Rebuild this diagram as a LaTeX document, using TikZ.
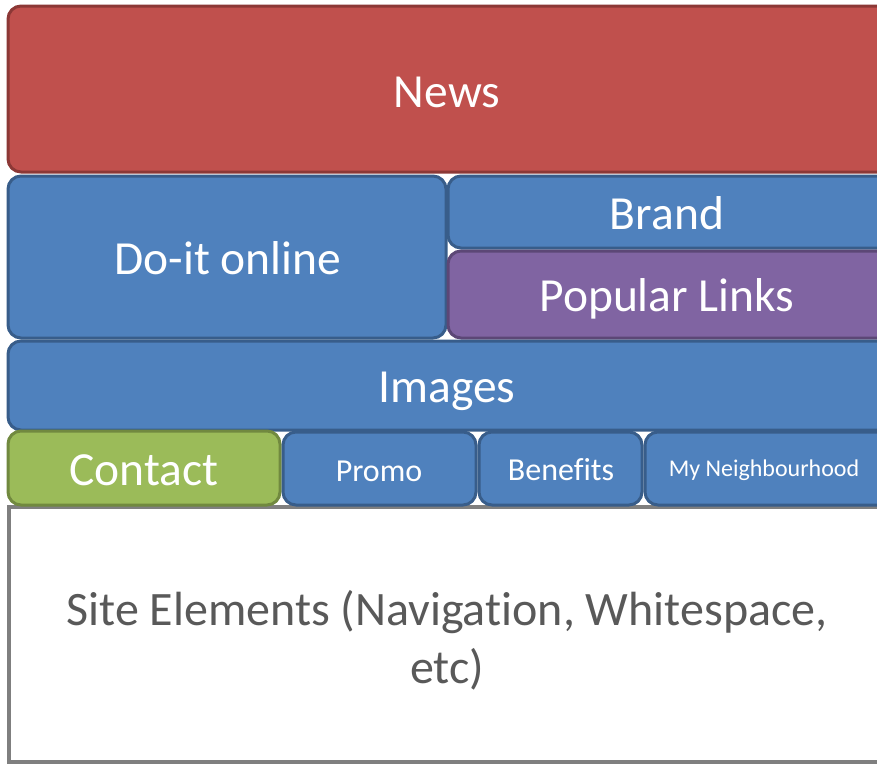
\documentclass[tikz,border=0pt]{standalone}
\usepackage{fontspec}
\setmainfont{Carlito}[Ligatures=NoCommon]
\definecolor{redfill}{HTML}{C0504D}
\definecolor{redline}{HTML}{8C3836}
\definecolor{bluefill}{HTML}{4F81BD}
\definecolor{blueline}{HTML}{385D8A}
\definecolor{greenfill}{HTML}{9BBB59}
\definecolor{greenline}{HTML}{71893F}
\definecolor{purplefill}{HTML}{8064A2}
\definecolor{purpleline}{HTML}{5C4776}
\definecolor{grayline}{HTML}{7F7F7F}
\definecolor{graytext}{HTML}{595959}
\tikzset{
  blk/.style={draw, line width=3pt, rounded corners=13pt, inner sep=0pt, rectangle},
  redblk/.style={blk, fill=redfill, draw=redline},
  blueblk/.style={blk, fill=bluefill, draw=blueline},
  greenblk/.style={blk, fill=greenfill, draw=greenline},
  purpleblk/.style={blk, fill=purplefill, draw=purpleline},
  big/.style={text=white, font=\fontsize{47.5}{56}\selectfont, inner sep=0pt},
  mid/.style={text=white, font=\fontsize{32}{38}\selectfont, inner sep=0pt},
  small/.style={text=white, font=\fontsize{24}{29}\selectfont, inner sep=0pt},
}
\begin{document}
\begin{tikzpicture}[x=1pt,y=-1pt]
\useasboundingbox (0,0) rectangle (877,764);
\clip (0,0) rectangle (877,764);
\fill[white] (0,0) rectangle (877,764);
% site elements
\node[draw=grayline, fill=white, line width=4pt, inner sep=0pt, minimum width=891pt, minimum height=255pt] (site) at (454.5,634.5) {};
\node[text=graytext, font=\fontsize{48}{58}\selectfont, align=center, inner sep=0pt] (sitet) at (447,640) {Site Elements (Navigation, Whitespace,\\etc)};
% news
\node[redblk, minimum width=884pt, minimum height=166pt] (news) at (450,89) {};
\node[big] (newst) at (447,92) {News};
% do-it online
\node[blueblk, minimum width=438pt, minimum height=162pt] (doit) at (227,257) {};
\node[big] (doitt) at (228,258) {Do-it online};
% brand
\node[blueblk, minimum width=444pt, minimum height=72pt] (brand) at (670,212) {};
\node[big] (brandt) at (667,213) {Brand};
% popular links
\node[purpleblk, minimum width=444pt, minimum height=87pt] (pop) at (670,294.5) {};
\node[big] (popt) at (667,299) {Popular Links};
% images
\node[blueblk, minimum width=884pt, minimum height=89pt] (img) at (450,385.5) {};
\node[big] (imgt) at (447,391) {Images};
% contact
\node[greenblk, minimum width=272pt, minimum height=74pt] (contact) at (144,468) {};
\node[big] (contactt) at (144,470) {Contact};
% promo
\node[blueblk, minimum width=193pt, minimum height=73pt] (promo) at (379.5,468.5) {};
\node[mid] (promot) at (379,471) {Promo};
% benefits
\node[blueblk, minimum width=163pt, minimum height=73pt] (ben) at (560.5,468.5) {};
\node[mid] (bent) at (561,470) {Benefits};
% my neighbourhood
\node[blueblk, minimum width=247pt, minimum height=73pt] (myn) at (768.5,468.5) {};
\node[small] (mynt) at (764,470) {My Neighbourhood};
\end{tikzpicture}
\end{document}
